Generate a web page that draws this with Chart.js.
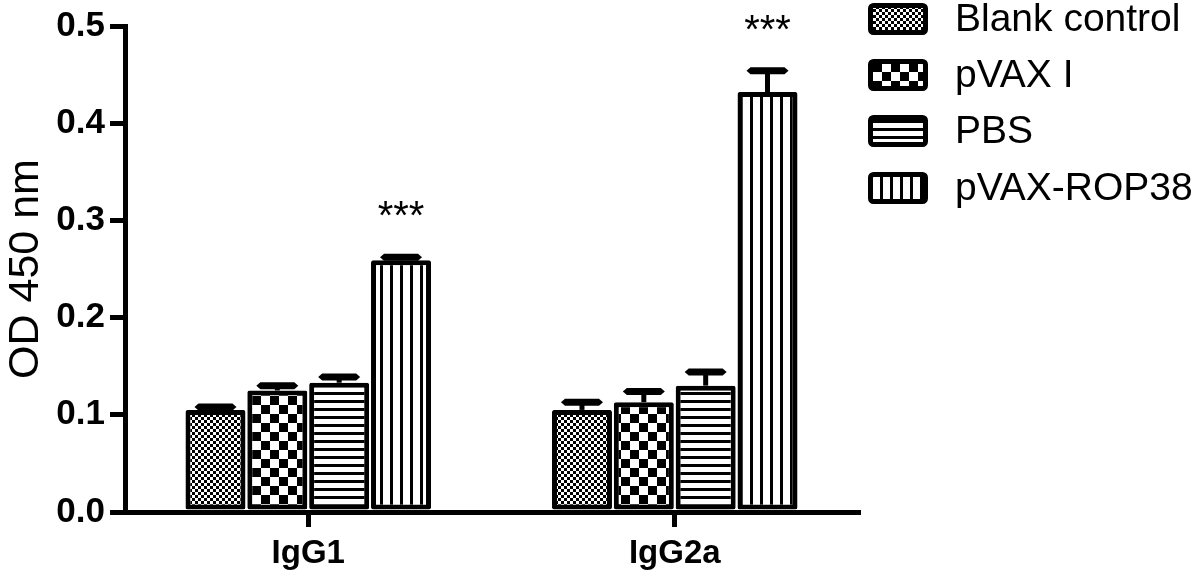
<!DOCTYPE html>
<html>
<head>
<meta charset="utf-8">
<script src="https://cdn.jsdelivr.net/npm/chart.js@4.4.1/dist/chart.umd.min.js"></script>
<style>
  html, body { margin: 0; padding: 0; background: #fff; }
  #wrap { width: 1200px; height: 581px; position: relative; }
</style>
</head>
<body>
<div id="wrap"><canvas id="c" width="1200" height="581"></canvas></div>
<script>
// ---- Data ----
const categories = ['IgG1', 'IgG2a'];
const seriesLabels = ['Blank control', 'pVAX I', 'PBS', 'pVAX-ROP38'];
const blankValues = [0.105, 0.105];
const blankErrors = [0.003, 0.008];
const pvaxValues = [0.125, 0.113];
const pvaxErrors = [0.005, 0.011];
const pbsValues = [0.133, 0.130];
const pbsErrors = [0.006, 0.014];
const ropValues = [0.259, 0.432];
const ropErrors = [0.003, 0.022];
const ropSignificance = ['***', '***'];
const yTicks = [0.0, 0.1, 0.2, 0.3, 0.4, 0.5];
const yTitle = 'OD 450 nm';

// ---- Patterns ----
function makePattern(type) {
  const c = document.createElement('canvas');
  const x = c.getContext('2d');
  if (type === 'fine') {
    c.width = 6; c.height = 6;
    x.fillStyle = '#fff'; x.fillRect(0, 0, 6, 6);
    x.fillStyle = '#000'; x.fillRect(0, 0, 3, 3); x.fillRect(3, 3, 3, 3);
  } else if (type === 'check') {
    c.width = 18; c.height = 18;
    x.fillStyle = '#fff'; x.fillRect(0, 0, 18, 18);
    x.fillStyle = '#000'; x.fillRect(0, 0, 9, 9); x.fillRect(9, 9, 9, 9);
  } else if (type === 'h') {
    c.width = 8; c.height = 8;
    x.fillStyle = '#fff'; x.fillRect(0, 0, 8, 8);
    x.fillStyle = '#000'; x.fillRect(0, 0, 8, 3);
  } else {
    c.width = 10; c.height = 10;
    x.fillStyle = '#fff'; x.fillRect(0, 0, 10, 10);
    x.fillStyle = '#000'; x.fillRect(0, 0, 3, 10);
  }
  return document.getElementById('c').getContext('2d').createPattern(c, 'repeat');
}
const patterns = [makePattern('fine'), makePattern('check'), makePattern('h'), makePattern('v')];
const errorSets = [blankErrors, pvaxErrors, pbsErrors, ropErrors];
const sigSets = [null, null, null, ropSignificance];

const FONT = "'Liberation Sans', Arial, Helvetica, sans-serif";

// ---- Plugins ----
const errorBarPlugin = {
  id: 'errorBars',
  afterDatasetsDraw(chart) {
    const ctx = chart.ctx;
    const yScale = chart.scales.y;
    chart.data.datasets.forEach((ds, di) => {
      const meta = chart.getDatasetMeta(di);
      meta.data.forEach((bar, i) => {
        const v = ds.data[i];
        const e = errorSets[di][i];
        const yTop = yScale.getPixelForValue(v + e);
        const x = bar.x;
        ctx.save();
        ctx.fillStyle = '#000';
        ctx.strokeStyle = '#000';
        ctx.lineWidth = 5;
        ctx.beginPath();
        ctx.moveTo(x, bar.y);
        ctx.lineTo(x, yTop);
        ctx.stroke();
        const hw = 17, hh = 3.5, tip = 4;
        ctx.beginPath();
        ctx.moveTo(x - hw - tip, yTop);
        ctx.lineTo(x - hw, yTop - hh);
        ctx.lineTo(x + hw, yTop - hh);
        ctx.lineTo(x + hw + tip, yTop);
        ctx.lineTo(x + hw, yTop + hh);
        ctx.lineTo(x - hw, yTop + hh);
        ctx.closePath();
        ctx.fill();
        const sig = sigSets[di] ? sigSets[di][i] : '';
        if (sig) {
          ctx.font = '40px ' + FONT;
          ctx.textAlign = 'center';
          ctx.textBaseline = 'alphabetic';
          ctx.fillText(sig, x, yTop - 28);
        }
        ctx.restore();
      });
    });
  }
};

const legendPlugin = {
  id: 'customLegend',
  afterDraw(chart) {
    const ctx = chart.ctx;
    const bx = 868, bw = 60, bh = 32, tx = 955;
    const tops = [3, 59, 115, 172];
    chart.data.datasets.forEach((ds, di) => {
      const top = tops[di];
      ctx.save();
      ctx.beginPath();
      ctx.roundRect(bx + 2.5, top + 2.5, bw - 5, bh - 5, 3);
      ctx.fillStyle = patterns[di];
      ctx.fill();
      ctx.lineWidth = 5;
      ctx.strokeStyle = '#000';
      ctx.stroke();
      ctx.fillStyle = '#000';
      ctx.font = '39px ' + FONT;
      ctx.textAlign = 'left';
      ctx.textBaseline = 'middle';
      ctx.fillText(ds.label, tx, top + bh / 2 + 1);
      ctx.restore();
    });
  }
};

const datasetsValues = [blankValues, pvaxValues, pbsValues, ropValues];

new Chart(document.getElementById('c'), {
  type: 'bar',
  data: {
    labels: categories,
    datasets: seriesLabels.map((label, i) => ({
      label: label,
      data: datasetsValues[i],
      backgroundColor: patterns[i],
      borderColor: '#000',
      borderWidth: 5,
      borderSkipped: false,
      borderRadius: 2,
      categoryPercentage: 0.675,
      barPercentage: 0.97
    }))
  },
  options: {
    responsive: false,
    animation: false,
    devicePixelRatio: 1,
    layout: { padding: { top: 22, right: 342, left: 0, bottom: 0 } },
    plugins: { legend: { display: false }, tooltip: { enabled: false } },
    scales: {
      x: {
        offset: true,
        grid: { display: true, drawOnChartArea: false, drawTicks: true, offset: false, tickLength: 15, lineWidth: 5, color: '#000' },
        border: { display: true, width: 5, color: '#000' },
        ticks: { color: '#000', font: { family: FONT, size: 33, weight: 'bold' }, padding: 7 },
        afterFit(scale) { scale.height = 69; }
      },
      y: {
        min: 0, max: 0.5,
        afterBuildTicks(scale) { scale.ticks = yTicks.map(v => ({ value: v })); },
        grid: { display: true, drawOnChartArea: false, drawTicks: true, tickLength: 15, lineWidth: 5, color: '#000' },
        border: { display: true, width: 5, color: '#000' },
        ticks: { color: '#000', font: { family: FONT, size: 35, weight: 'bold' }, padding: 5, callback: v => Number(v).toFixed(1) },
        title: { display: true, text: yTitle, color: '#000', font: { family: FONT, size: 43 }, padding: { top: 0, bottom: 0 } },
        afterFit(scale) { scale.width = 125; }
      }
    }
  },
  plugins: [errorBarPlugin, legendPlugin]
});
</script>
</body>
</html>
